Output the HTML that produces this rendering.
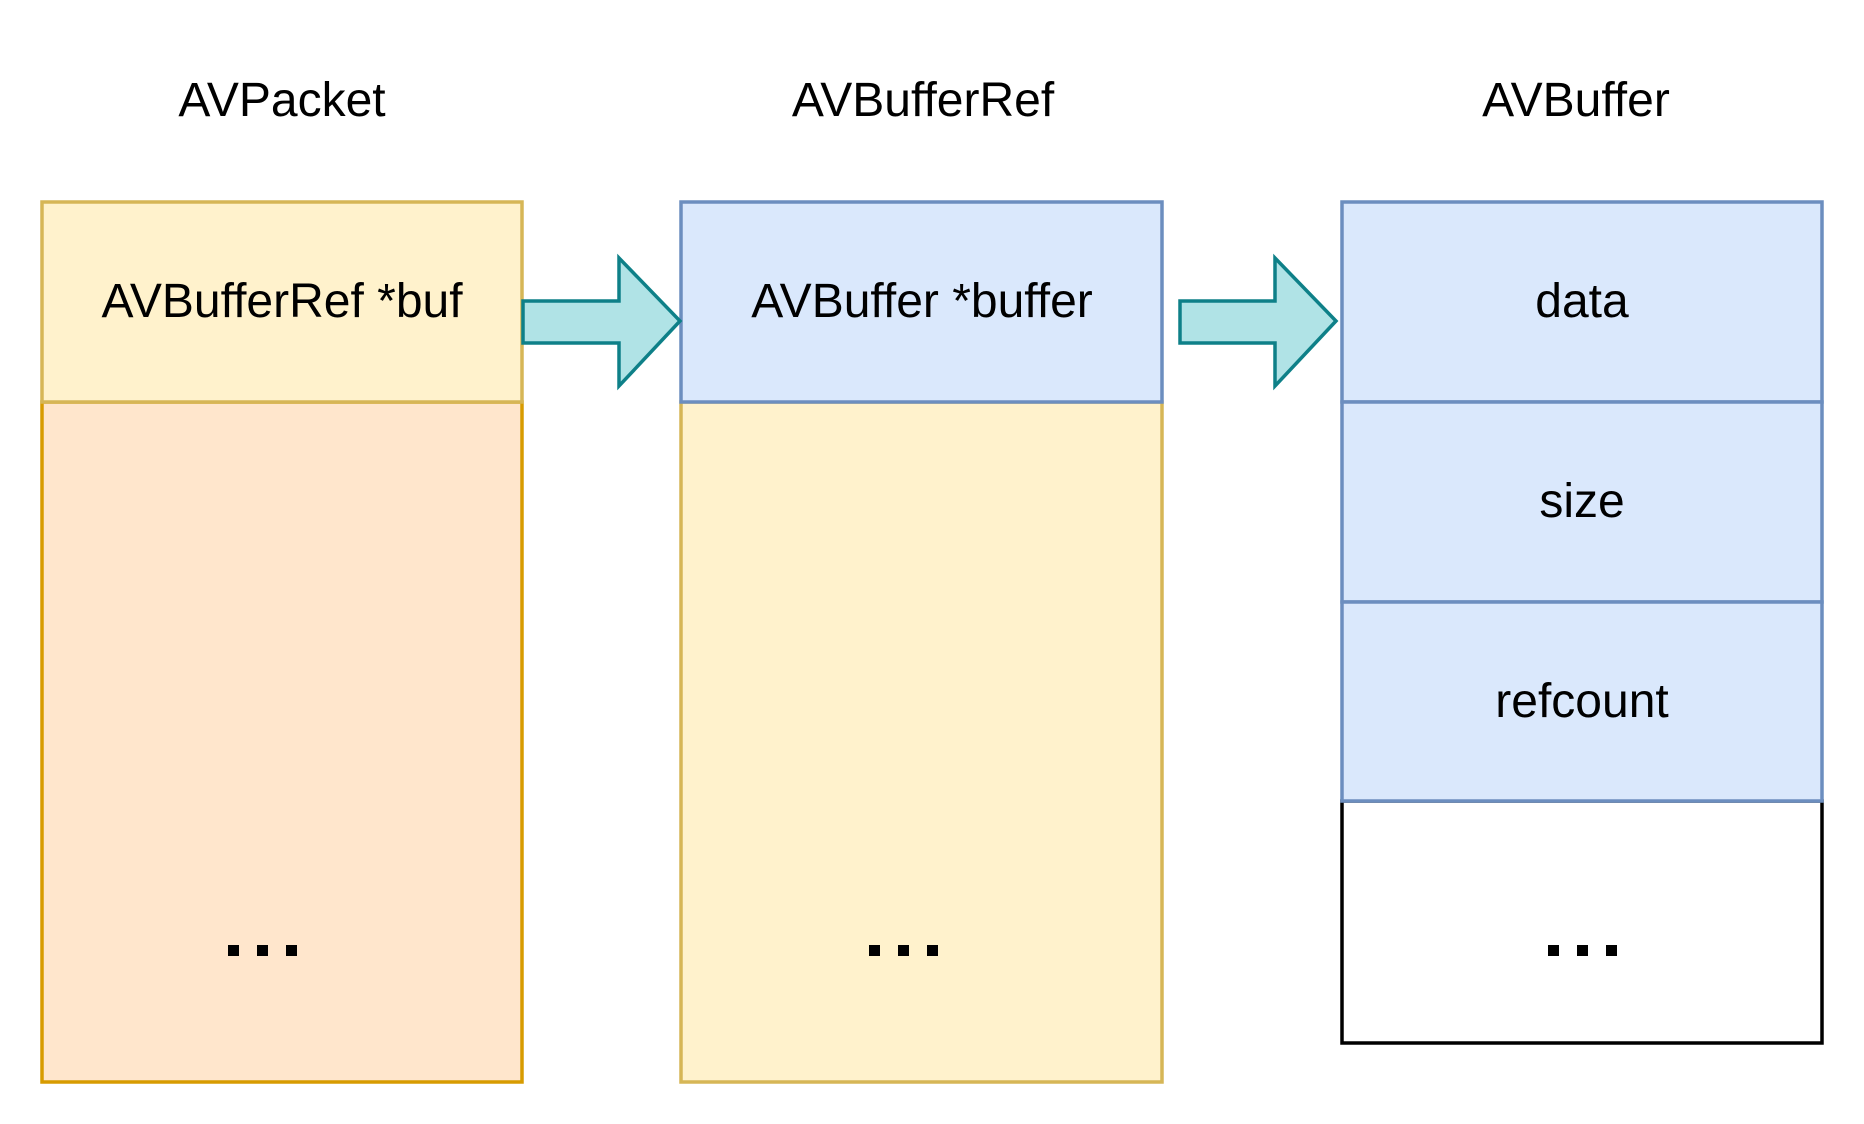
<!DOCTYPE html>
<html><head><meta charset="utf-8"><style>html,body{margin:0;padding:0;background:#fff}svg{display:block}</style></head>
<body>
<svg width="1864" height="1124" viewBox="0 0 1864 1124" xmlns="http://www.w3.org/2000/svg" font-family="Liberation Sans, Arial, sans-serif" font-size="48" text-anchor="middle">
<text x="282" y="116">AVPacket</text>
<text x="923" y="116">AVBufferRef</text>
<text x="1576" y="116">AVBuffer</text>
<!-- Box 1 -->
<rect x="42" y="402" width="480" height="680" fill="#ffe6cc" stroke="#d79b00" stroke-width="3.5"/>
<rect x="42" y="202" width="480" height="200" fill="#fff2cc" stroke="#d6b656" stroke-width="3.5"/>
<text x="282" y="317">AVBufferRef *buf</text>
<!-- Box 2 -->
<rect x="681" y="402" width="481" height="680" fill="#fff2cc" stroke="#d6b656" stroke-width="3.5"/>
<rect x="681" y="202" width="481" height="200" fill="#dae8fc" stroke="#6c8ebf" stroke-width="3.5"/>
<text x="922" y="317">AVBuffer *buffer</text>
<!-- Box 3 -->
<rect x="1342" y="801" width="480" height="242" fill="#fff" stroke="#000" stroke-width="3.5"/>
<rect x="1342" y="202" width="480" height="200" fill="#dae8fc" stroke="#6c8ebf" stroke-width="3.5"/>
<rect x="1342" y="402" width="480" height="200" fill="#dae8fc" stroke="#6c8ebf" stroke-width="3.5"/>
<rect x="1342" y="602" width="480" height="199" fill="#dae8fc" stroke="#6c8ebf" stroke-width="3.5"/>
<text x="1582" y="317">data</text>
<text x="1582" y="517">size</text>
<text x="1582" y="717">refcount</text>
<!-- dots -->
<g fill="#000">
<rect x="228" y="945" width="11" height="11"/><rect x="257" y="945" width="11" height="11"/><rect x="286" y="945" width="11" height="11"/>
<rect x="869" y="945" width="11" height="11"/><rect x="898" y="945" width="11" height="11"/><rect x="927" y="945" width="11" height="11"/>
<rect x="1548" y="945" width="11" height="11"/><rect x="1577" y="945" width="11" height="11"/><rect x="1606" y="945" width="11" height="11"/>
</g>
<!-- arrows -->
<polygon points="523,301 619,301 619,258 680,321 619,386 619,343 523,343" fill="#b0e3e6" stroke="#0e8088" stroke-width="3.5"/>
<polygon points="1180,301 1275,301 1275,258 1336,321 1275,386 1275,343 1180,343" fill="#b0e3e6" stroke="#0e8088" stroke-width="3.5"/>
</svg>
</body></html>
